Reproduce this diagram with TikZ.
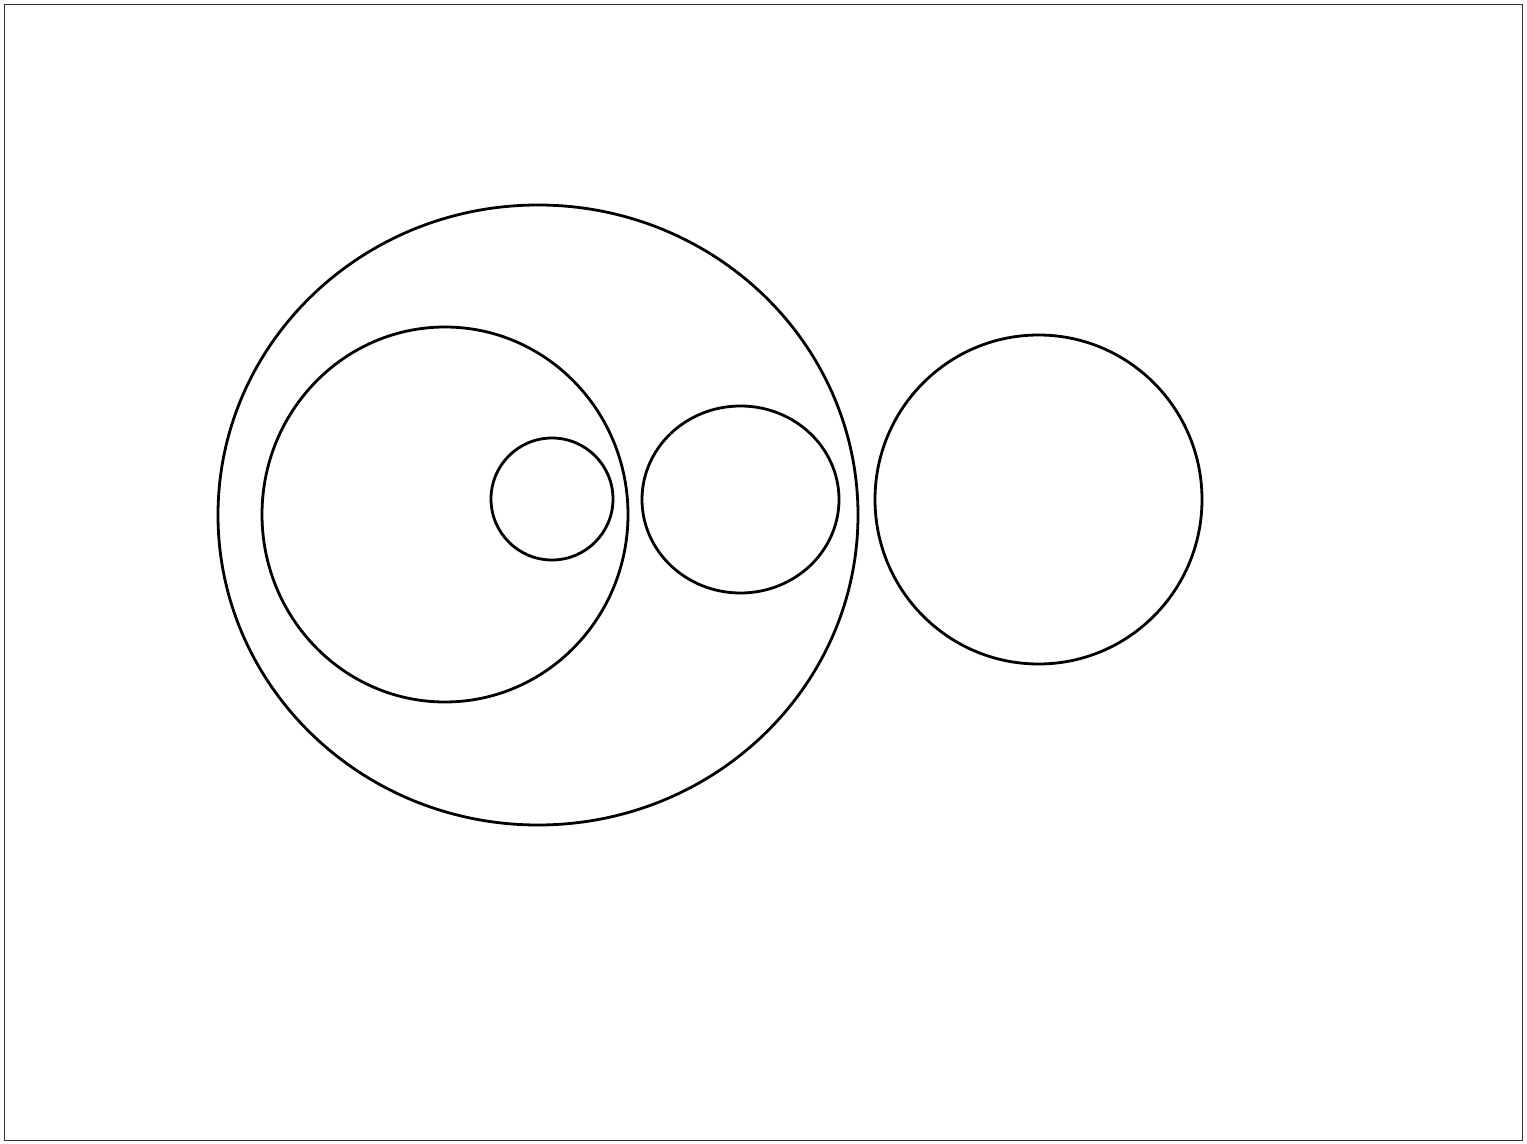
\documentclass[tikz,border=0pt]{standalone}
\begin{document}
\begin{tikzpicture}[x=0.5pt,y=-0.5pt,
  ring/.style={draw=black,line width=1.4pt},
  frame/.style={draw=black!80,line width=0.7pt}]
\useasboundingbox (0,0) rectangle (1527,1144);
\draw[frame] (4.5,4.5) rectangle (1522.5,1140.5);
\draw[ring] (538,515) ellipse [x radius=320,y radius=310];
\draw[ring] (445,514.5) ellipse [x radius=183,y radius=187.5];
\draw[ring] (552,499) circle [radius=61];
\draw[ring] (740.5,499.5) ellipse [x radius=98.5,y radius=93.5];
\draw[ring] (1038.5,499.5) ellipse [x radius=163.5,y radius=164.5];
\end{tikzpicture}
\end{document}
